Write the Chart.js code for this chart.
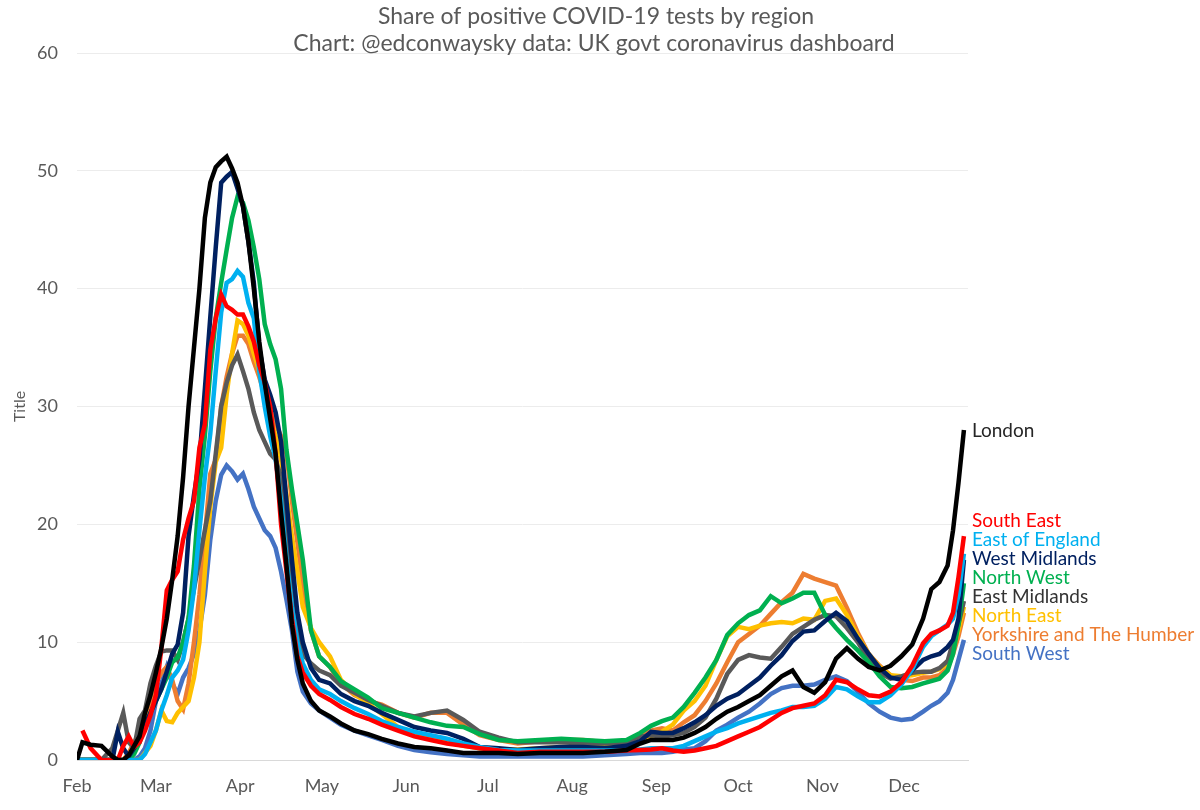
<!DOCTYPE html>
<html>
<head>
<meta charset="utf-8">
<script src="https://cdn.jsdelivr.net/npm/chart.js@4.4.1/dist/chart.umd.min.js"></script>
<style>
html,body{margin:0;padding:0;background:#fff;}
#wrap{width:1200px;height:810px;}
</style>
</head>
<body>
<div id="wrap"><canvas id="c" width="1200" height="810"></canvas></div>
<script>
// Days since 1 Feb 2020
const days = [0,2,5,9,13,15,17,19,21,23,
  25,27,29,31,33,35,37,39,41,43,
  45,47,49,51,53,55,57,59,61,63,
  65,67,69,71,73,75,77,79,81,83,
  86,89,93,97,102,107,112,118,124,130,
  136,142,148,155,162,170,178,186,194,202,
  207,211,215,219,223,227,231,235,239,243,
  247,251,255,259,263,267,271,275,279,283,
  287,291,295,299,303,307,311,314,317,320,
  322,324,326];

const monthLabels = ['Feb','Mar','Apr','May','Jun','Jul','Aug','Sep','Oct','Nov','Dec'];
const monthStarts = [0,29,60,90,121,151,182,213,243,274,304];

const titleLines = ['Share of positive COVID-19 tests by region', 'Chart: @edconwaysky data: UK govt coronavirus dashboard'];
const yAxisTitle = 'Title';

const regions = ['London','South East','East of England','West Midlands','North West','East Midlands','North East','Yorkshire and The Humber','South West'];

const london = [0,1.5,1.3,1.2,0.3,0,0,0.4,1.2,2,
  4,5.5,7.4,9.5,12,15.3,19,24,30,35,
  40,46,49,50.3,50.8,51.2,50.2,49,47,44,
  40,35.5,32,29,26,21,16.5,11.5,8.5,6.5,
  5,4.2,3.7,3.1,2.5,2.2,1.8,1.4,1.1,1.0,
  0.8,0.6,0.6,0.6,0.5,0.6,0.6,0.6,0.7,0.85,
  1.4,1.7,1.7,1.7,1.9,2.3,2.8,3.5,4.1,4.5,
  5.0,5.5,6.3,7.1,7.6,6.2,5.7,6.6,8.6,9.5,
  8.6,7.9,7.6,8.0,8.8,9.8,12,14.5,15.1,16.5,
  19.5,23.5,28];

const southEast = [null,2.5,1.0,0,0,0,1.2,2.0,1.1,1.5,
  2.5,3.8,5.5,9.5,14.4,15.3,16,18.7,20.5,22,
  26.5,28.5,34.8,37.5,39.5,38.5,38.2,37.8,37.8,36.8,
  35.5,33.5,32,30,26,20,16,12,8.8,7.4,
  6.3,5.6,5.1,4.5,3.9,3.5,3.0,2.5,2.0,1.7,
  1.4,1.2,1.0,0.8,0.6,0.7,0.7,0.7,0.7,0.8,
  0.85,0.9,1.0,0.8,0.7,0.8,1.0,1.2,1.6,2.0,
  2.4,2.8,3.4,4.0,4.4,4.6,4.8,5.5,6.8,6.6,
  6.0,5.5,5.4,5.8,6.6,8.0,9.9,10.7,11.0,11.4,
  12.5,15.5,19];

const eastOfEngland = [0,0,0,0,0,0,0,0,0,0,
  0.5,1.5,2.5,4.2,5.5,7,7.6,8.5,11,14.5,
  19.5,24,27.7,33,38,40.5,40.8,41.5,41,38.8,
  37.5,33,30,27.5,25.5,22,17,13,10,8.2,
  6.8,6.0,5.6,5.0,4.4,3.9,3.3,2.8,2.4,2.1,
  1.8,1.4,1.1,0.85,0.8,0.8,0.8,0.8,0.8,0.8,
  0.9,1.0,1.0,1.0,1.2,1.6,2.0,2.4,2.7,3.1,
  3.4,3.7,4.0,4.2,4.5,4.5,4.6,5.2,6.2,6.0,
  5.4,4.9,4.9,5.5,6.4,7.7,9.6,10.5,11.0,11.5,
  12,14,17.5];

const westMidlands = [0,0,0,0,0,2.4,1.0,0.3,1,2,
  3,4,5,6,7.5,9,9.8,12.5,19,22.5,
  25.5,31.5,37.6,43.5,49,49.5,49.9,48.5,47,44,
  40.5,35,32.3,31,29.5,27,22,17,12.5,10,
  7.8,6.8,6.5,5.6,5.0,4.6,4.0,3.4,2.8,2.5,
  2.3,1.8,1.1,1.0,0.85,1.0,1.1,1.1,1.0,1.2,
  1.6,2.4,2.3,2.3,2.7,3.2,3.8,4.6,5.2,5.6,
  6.3,7.0,8.0,8.9,10.1,10.9,11.0,11.8,12.5,11.8,
  10.3,9.0,7.8,7.0,6.8,7.6,8.5,8.8,9.0,9.6,
  10.2,12,17];

const northWest = [0,0,0,0,0,0,0,0,0.5,1.5,
  3,4,5,6,7,8.3,8.7,10,12,16.5,
  23,27.5,33,37.5,40.5,43.3,46,47.8,47.3,45.8,
  43.5,40.8,37,35.3,34,31.5,26.3,23,20,17,
  11,8.8,7.9,6.7,6.0,5.3,4.4,4.0,3.6,3.2,
  2.9,2.8,2.2,1.7,1.6,1.7,1.8,1.7,1.6,1.7,
  2.3,2.9,3.3,3.6,4.5,5.7,7.0,8.5,10.6,11.6,
  12.3,12.7,13.9,13.3,13.7,14.2,14.2,12.3,11.2,10.2,
  9.3,8.3,7.1,6.2,6.1,6.2,6.5,6.7,6.9,7.6,
  9,11.5,15];

const eastMidlands = [0,0,0,0,1.0,2.5,4.0,1.5,1.0,3.5,
  4.2,6.5,8,9.2,9.3,9.3,8.5,10,12,14.5,
  17,19.5,22,26,30,32,33.5,34.4,33,31.5,
  29.5,28,27,26,25.5,24,20,15,11,9,
  8.2,7.6,7.2,6.3,5.7,5.1,4.6,4.0,3.7,4.0,
  4.2,3.4,2.4,1.9,1.5,1.5,1.5,1.4,1.4,1.5,
  2.0,2.1,2.0,2.1,2.3,2.8,3.6,5.2,7.3,8.5,
  8.9,8.7,8.6,9.6,10.7,11.3,11.9,12.3,12.2,11.2,
  10.0,8.5,7.4,6.9,7.1,7.4,7.5,7.5,7.8,8.4,
  10,11.5,13.5];

const northEast = [0,0,0,0,0,0,0,0,0,0,
  0.6,1.2,2.5,4.2,3.3,3.2,4.0,4.5,5,7,
  10,16,21.5,25.3,26.5,31,34.5,37.3,37,36,
  34.5,33,31,29,27.5,25.5,22.5,19,16,13,
  11.2,10.0,8.8,6.8,5.6,4.8,3.9,2.8,2.1,1.8,
  1.5,1.2,1.0,0.9,0.9,1.0,1.1,1.1,1.2,1.4,
  1.7,2.0,2.4,3.0,4.2,5.0,6.3,8.5,10.5,11.3,
  11.1,11.4,11.6,11.7,11.6,12.0,11.9,13.5,13.7,12.3,
  10.5,9.0,7.9,7.2,7.1,7.2,7.4,7.5,7.7,8.2,
  9.5,11,13];

const yorkshire = [0,0,0,0,0,0,0,0.6,1.5,2.3,
  3.3,4.5,6.5,7.4,7.9,6.8,5,4.3,6.5,10,
  14,19,24.3,25.5,30,32.5,34.5,36,36,35.3,
  33.8,32.5,31,29.8,28.5,27.5,26,22,18.5,15,
  11,8.8,7.9,6.5,5.5,5.0,4.7,4.0,3.6,4.0,
  4.0,3.0,2.1,1.7,1.4,1.6,1.7,1.7,1.5,1.4,
  2.0,2.5,2.7,2.5,3.2,3.8,5.0,6.5,8.3,10.0,
  10.7,11.4,12.4,13.4,14.2,15.8,15.4,15.1,14.8,12.9,
  10.8,9.0,8.0,7.2,6.8,6.7,7.0,7.0,7.2,7.8,
  9,10.5,12.5];

const southWest = [0,0,0,0,0,0,0,0,0,0.3,
  1,2.5,5,6.5,7.9,6.5,5.6,7.0,7.8,9,
  11,14,18.7,22,24.2,25,24.5,23.8,24.3,23,
  21.5,20.5,19.5,19,18,16,13.6,11,7.5,5.8,
  4.8,4.2,3.6,3.0,2.5,2.1,1.7,1.2,0.85,0.65,
  0.5,0.4,0.3,0.3,0.3,0.3,0.3,0.3,0.4,0.5,
  0.6,0.6,0.6,0.7,0.9,1.0,1.6,2.5,3.0,3.6,
  4.1,4.8,5.6,6.1,6.3,6.3,6.4,6.8,7.1,6.7,
  5.8,4.8,4.1,3.6,3.4,3.5,4.1,4.6,5.0,5.7,
  6.8,8.5,10.2];

const seriesValues = [london, southEast, eastOfEngland, westMidlands, northWest, eastMidlands, northEast, yorkshire, southWest];
const lineColors = ['#000000','#FF0000','#00B0F0','#002060','#00B050','#595959','#FFC000','#ED7D31','#4472C4'];
const labelColors = ['#262626','#FF0000','#00B0F0','#002060','#00B050','#333333','#FFC000','#ED7D31','#4472C4'];

const FONT = 'Lato';
const GREY = '#595959';

// Two-line title centred on the whole picture (not only the plot area)
const pageTitle = {
  id: 'pageTitle',
  afterDraw(chart) {
    const ctx = chart.ctx;
    ctx.save();
    ctx.font = '23px ' + FONT;
    ctx.fillStyle = GREY;
    ctx.textAlign = 'center';
    ctx.textBaseline = 'alphabetic';
    ctx.fillText(titleLines[0], 596, 24);
    ctx.fillText(titleLines[1], 594, 51);
    ctx.restore();
  }
};

const endLabels = {
  id: 'endLabels',
  afterDatasetsDraw(chart) {
    const ctx = chart.ctx;
    const gap = 19;
    const items = chart.data.datasets.map((ds, i) => {
      const meta = chart.getDatasetMeta(i);
      const pt = meta.data[meta.data.length - 1];
      return {text: ds.label, color: labelColors[i], x: pt.x, y: pt.y};
    });
    const groups = [];
    items.forEach(it => {
      groups.push({items: [it], top: it.y});
      while (groups.length > 1) {
        const a = groups[groups.length - 2], b = groups[groups.length - 1];
        const aBottom = a.top + (a.items.length - 1) * gap;
        if (b.top < aBottom + gap) {
          const merged = a.items.concat(b.items);
          const mean = merged.reduce((s, t) => s + t.y, 0) / merged.length;
          groups.splice(-2, 2, {items: merged, top: mean - (merged.length - 1) * gap / 2});
        } else break;
      }
    });
    ctx.save();
    ctx.font = '19px ' + FONT;
    ctx.textAlign = 'left';
    ctx.textBaseline = 'middle';
    groups.forEach(g => {
      g.items.forEach((it, k) => {
        ctx.fillStyle = it.color;
        ctx.fillText(it.text, it.x + 8, g.top + k * gap + 1);
      });
    });
    ctx.restore();
  }
};

const datasets = regions.map((name, i) => ({
  label: name,
  data: days.map((d, j) => ({x: d, y: seriesValues[i][j]})),
  borderColor: lineColors[i],
  backgroundColor: lineColors[i],
  borderWidth: 4.5,
  pointRadius: 0,
  tension: 0,
  fill: false,
  spanGaps: false
}));

new Chart(document.getElementById('c'), {
  type: 'line',
  data: {datasets},
  options: {
    responsive: false,
    animation: false,
    devicePixelRatio: 1,
    layout: {padding: {top: 53, right: 232, bottom: 0, left: 0}},
    plugins: {
      legend: {display: false},
      tooltip: {enabled: false},
      title: {display: false}
    },
    scales: {
      x: {
        type: 'linear',
        min: 0,
        max: 327.5,
        afterBuildTicks: (axis) => { axis.ticks = monthStarts.map(v => ({value: v})); },
        afterFit: (axis) => { axis.height = 50; },
        ticks: {
          autoSkip: false,
          maxRotation: 0,
          padding: 15,
          color: GREY,
          font: {family: FONT, size: 18},
          callback: (v) => monthLabels[monthStarts.indexOf(v)]
        },
        grid: {display: false, drawTicks: false},
        border: {display: true, color: '#d9d9d9', width: 1}
      },
      y: {
        min: 0,
        max: 60,
        afterFit: (axis) => { axis.width = 77; },
        ticks: {stepSize: 10, padding: 19, color: GREY, font: {family: FONT, size: 18}},
        grid: {color: '#ececec', lineWidth: 1, drawTicks: false},
        border: {display: false},
        title: {display: true, text: yAxisTitle, color: GREY, font: {family: FONT, size: 16}, padding: {top: 10, bottom: 0}}
      }
    }
  },
  plugins: [endLabels, pageTitle]
});
</script>
</body>
</html>
